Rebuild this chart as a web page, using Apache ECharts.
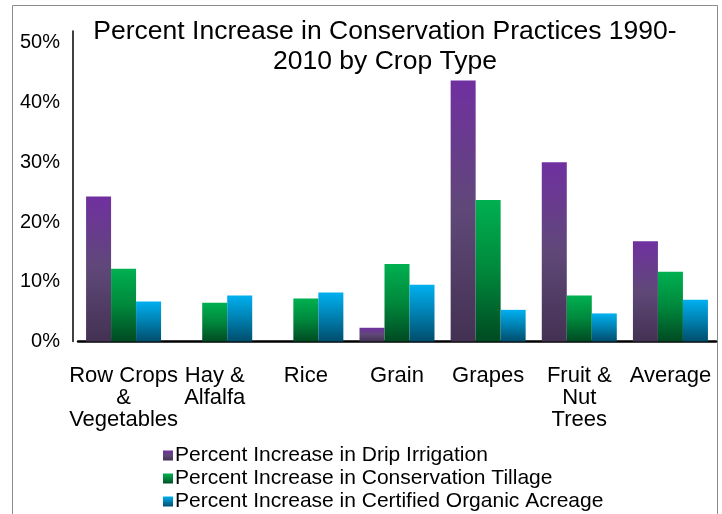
<!DOCTYPE html>
<html>
<head>
<meta charset="utf-8">
<script src="https://cdn.jsdelivr.net/npm/echarts@6/dist/echarts.min.js"></script>
<style>
html,body{margin:0;padding:0;background:#fff;}
#c{width:722px;height:514px;}
</style>
</head>
<body>
<div id="c"></div>
<script>
var categories = ['Row Crops\n&\nVegetables', 'Hay &\nAlfalfa', 'Rice', 'Grain', 'Grapes', 'Fruit &\nNut\nTrees', 'Average'];
var seriesNames = ['Percent Increase in Drip Irrigation', 'Percent Increase in Conservation Tillage', 'Percent Increase in Certified Organic Acreage'];
var dripIrrigation = [24.3, null, null, 2.3, 43.7, 30.0, 16.8];
var conservationTillage = [12.2, 6.5, 7.2, 13.0, 23.7, 7.7, 11.7];
var organicAcreage = [6.7, 7.7, 8.2, 9.5, 5.3, 4.7, 7.0];
var yTicks = [0, 10, 20, 30, 40, 50];

var FONT = 'Liberation Sans, Arial, sans-serif';
function grad(top, mid, bottom) {
  return new echarts.graphic.LinearGradient(0, 0, 0, 1, [
    {offset: 0, color: top}, {offset: 0.5, color: mid}, {offset: 1, color: bottom}
  ]);
}
var colors = [
  grad('#7030a0', '#5f4878', '#433152'),
  grad('#00b050', '#00883c', '#004a22'),
  grad('#00b0f0', '#0080b0', '#004d6c')
];
var dataSets = [dripIrrigation, conservationTillage, organicAcreage];

var chart = echarts.init(document.getElementById('c'), null, {renderer: 'canvas'});
chart.setOption({
  animation: false,
  backgroundColor: '#fff',
  graphic: [{
    type: 'rect', silent: true, z: -1,
    shape: {x: 12.5, y: 5.5, width: 705, height: 530},
    style: {fill: 'none', stroke: '#8c8c8c', lineWidth: 1}
  }],
  title: {
    text: 'Percent Increase in Conservation Practices 1990-\n2010 by Crop Type',
    left: 385,
    top: 17,
    padding: 0,
    textAlign: 'center',
    textStyle: {fontFamily: FONT, fontSize: 26.5, fontWeight: 'normal', color: '#000', lineHeight: 30}
  },
  legend: {
    orient: 'vertical',
    left: 163,
    top: 445,
    itemWidth: 10,
    itemHeight: 10,
    itemGap: 2,
    icon: 'rect',
    padding: 0,
    textStyle: {fontFamily: FONT, fontSize: 21, color: '#000', lineHeight: 21, padding: [0, 0, 0, -3]},
    data: seriesNames
  },
  grid: {left: 78, right: 6, top: 31, bottom: 172.5, containLabel: false},
  xAxis: {
    type: 'category',
    data: categories,
    axisLine: {lineStyle: {color: '#000', width: 2.5}},
    axisTick: {show: false},
    axisLabel: {fontFamily: FONT, fontSize: 22, color: '#000', lineHeight: 22, margin: 23, interval: 0}
  },
  yAxis: {
    type: 'value',
    min: 0,
    max: 52,
    interval: 10,
    offset: 5,
    splitLine: {show: false},
    axisLine: {show: true, lineStyle: {color: '#000', width: 1.5}},
    axisTick: {show: false},
    axisLabel: {
      fontFamily: FONT, fontSize: 20, color: '#000', margin: 13,
      formatter: function (v) { return yTicks.indexOf(v) >= 0 ? v + '%' : ''; }
    }
  },
  series: dataSets.map(function (d, i) {
    return {
      name: seriesNames[i],
      type: 'bar',
      data: d,
      barWidth: 25,
      barGap: '0%',
      itemStyle: {color: colors[i]}
    };
  })
});
</script>
</body>
</html>
